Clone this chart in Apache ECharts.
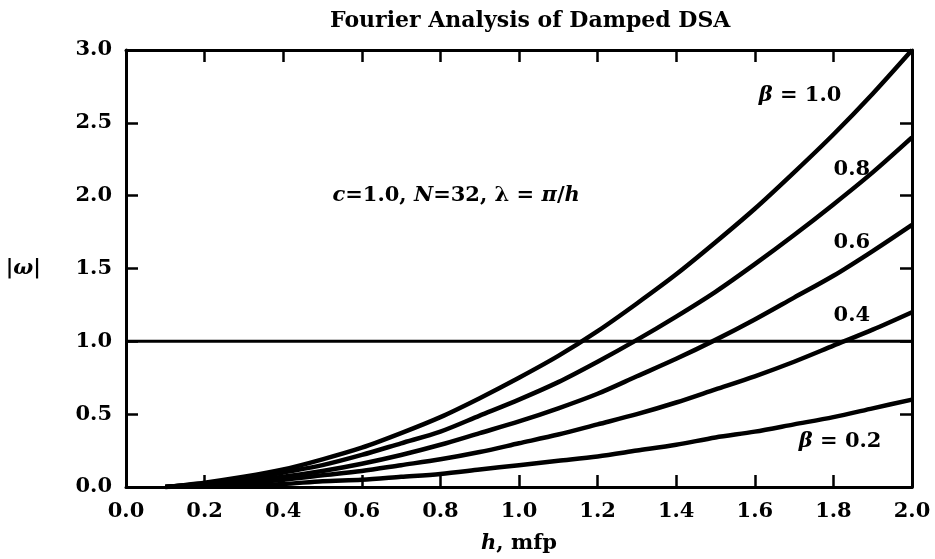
<!DOCTYPE html>
<html>
<head>
<meta charset="utf-8">
<script src="https://cdn.jsdelivr.net/npm/echarts@6/dist/echarts.min.js"></script>
<style>html,body{margin:0;padding:0;background:#fff;}#chart{width:935px;height:559px;}</style>
</head>
<body>
<div id="chart"></div>
<script>
// ---- data ----
const hValues = [0.1,0.2,0.3,0.4,0.5,0.6,0.7,0.8,0.9,1.0,1.1,1.2,1.3,1.4,1.5,1.6,1.7,1.8,1.9,2.0];
const beta10 = [0.00,0.03,0.07,0.12,0.19,0.27,0.37,0.48,0.61,0.75,0.90,1.07,1.26,1.46,1.68,1.91,2.16,2.42,2.70,3.00];
const beta08 = [0.00,0.02,0.05,0.10,0.15,0.22,0.30,0.38,0.49,0.60,0.72,0.86,1.01,1.17,1.34,1.53,1.73,1.94,2.16,2.40];
const beta06 = [0.00,0.02,0.04,0.07,0.11,0.16,0.22,0.29,0.37,0.45,0.54,0.64,0.76,0.88,1.01,1.15,1.30,1.45,1.62,1.80];
const beta04 = [0.00,0.01,0.03,0.05,0.08,0.11,0.15,0.19,0.24,0.30,0.36,0.43,0.50,0.58,0.67,0.76,0.86,0.97,1.08,1.20];
const beta02 = [0.00,0.01,0.01,0.02,0.04,0.05,0.07,0.09,0.12,0.15,0.18,0.21,0.25,0.29,0.34,0.38,0.43,0.48,0.54,0.60];
const refLineX = [0.0, 2.0];
const refLineY = [1.0, 1.0];
const xTicks = [0.0,0.2,0.4,0.6,0.8,1.0,1.2,1.4,1.6,1.8,2.0];
const yTicks = [0.0,0.5,1.0,1.5,2.0,2.5,3.0];
const titleText = 'Fourier Analysis of Damped DSA';
const xName = '{i|h}, mfp';
const yName = '|{i|ω}|';
const noteText = '{i|c}=1.0, {i|N}=32, λ = {i|π}/{i|h}';
const curveLabels = ['{i|β} = 1.0', '0.8', '0.6', '0.4', '{i|β} = 0.2'];
// label anchor points (data coordinates)
const labelAnchors = [[1.715,2.69],[1.847,2.18],[1.847,1.68],[1.847,1.18],[1.817,0.31]];
const noteAnchor = [0.84, 2.0];

const FONT = 'DejaVu Serif';
const zip = (xs, ys) => xs.map((x, i) => [x, ys[i]]);
const richStyle = {
  i: {fontFamily: FONT, fontStyle: 'italic', fontWeight: 'bold', fontSize: 21, color: '#000'}
};
const curveStyle = (d) => ({
  type: 'line', data: zip(hValues, d), smooth: 0.3, showSymbol: false, symbol: 'none',
  lineStyle: {color: '#000', width: 4.5}, silent: true, z: 3
});

const chart = echarts.init(document.getElementById('chart'), null, {renderer: 'canvas'});
const axisCommon = {
  axisLine: {show: true, onZero: false, lineStyle: {color: '#000', width: 3}},
  axisTick: {show: true, inside: true, length: 12, lineStyle: {color: '#000', width: 2.5}},
  splitLine: {show: false}
};
chart.setOption({
  backgroundColor: '#fff',
  animation: false,
  title: {
    text: titleText, left: 325, top: 5,
    textStyle: {fontFamily: FONT, fontWeight: 'bold', fontSize: 22, color: '#000'}
  },
  grid: {left: 126, right: 23, top: 50, bottom: 70, containLabel: false},
  xAxis: [
    Object.assign({
      type: 'value', min: xTicks[0], max: xTicks[xTicks.length-1], interval: 0.2, position: 'bottom',
      axisLabel: {formatter: v => v.toFixed(1), fontFamily: FONT, fontWeight: 'bold', fontSize: 21, color: '#000', margin: 14},
      name: xName, nameLocation: 'middle', nameGap: 46,
      nameTextStyle: {fontFamily: FONT, fontWeight: 'bold', fontSize: 21, color: '#000', rich: richStyle}
    }, axisCommon),
    Object.assign({
      type: 'value', min: xTicks[0], max: xTicks[xTicks.length-1], interval: 0.2, position: 'top',
      axisLabel: {show: false}
    }, axisCommon)
  ],
  yAxis: [
    Object.assign({
      type: 'value', min: yTicks[0], max: yTicks[yTicks.length-1], interval: 0.5, position: 'left',
      axisLabel: {formatter: v => v.toFixed(1), fontFamily: FONT, fontWeight: 'bold', fontSize: 21, color: '#000', margin: 14},
      name: yName, nameLocation: 'middle', nameRotate: 0, nameGap: 85,
      nameTextStyle: {fontFamily: FONT, fontWeight: 'bold', fontSize: 21, color: '#000', rich: richStyle}
    }, axisCommon),
    Object.assign({
      type: 'value', min: yTicks[0], max: yTicks[yTicks.length-1], interval: 0.5, position: 'right',
      axisLabel: {show: false}
    }, axisCommon)
  ],
  series: [
    curveStyle(beta10), curveStyle(beta08), curveStyle(beta06), curveStyle(beta04), curveStyle(beta02),
    {type: 'line', data: zip(refLineX, refLineY), showSymbol: false, symbol: 'none',
     lineStyle: {color: '#000', width: 3}, silent: true, z: 2},
    {type: 'scatter', symbolSize: 0, silent: true, z: 5,
     itemStyle: {opacity: 1, color: '#000'},
     data: labelAnchors.map((p, i) => ({value: p, label: {formatter: curveLabels[i]}}))
       .concat([{value: noteAnchor, label: {formatter: noteText}}]),
     label: {show: true, position: 'inside', fontFamily: FONT, fontWeight: 'bold', fontSize: 21, color: '#000',
             opacity: 1, textBorderWidth: 0, rich: richStyle}}
  ]
});
</script>
</body>
</html>
